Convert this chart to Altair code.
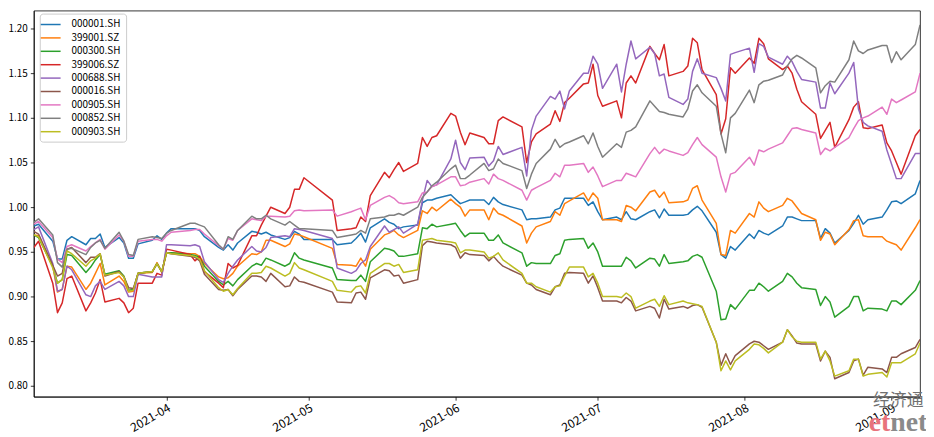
import altair as alt
import pandas as pd

holidays = ["2021-04-05", "2021-05-03", "2021-05-04", "2021-05-05", "2021-06-14"]
dates = [d.strftime("%Y-%m-%d") for d in pd.bdate_range("2021-03-04", "2021-09-07")
         if d.strftime("%Y-%m-%d") not in holidays]

names = ["000001.SH", "399001.SZ", "000300.SH", "399006.SZ", "000688.SH",
         "000016.SH", "000905.SH", "000852.SH", "000903.SH"]
colors = ["#1f77b4", "#ff7f0e", "#2ca02c", "#d62728", "#9467bd",
          "#8c564b", "#e377c2", "#7f7f7f", "#bcbd22"]

s000001 = [0.979, 0.981, 0.962, 0.942, 0.942, 0.963, 0.967, 0.958, 0.965, 0.965, 0.970, 0.955, 0.966, 0.960, 0.943, 0.943, 0.959, 0.963, 0.968, 0.964, 0.971, 0.976,
           0.976, 0.976, 0.974, 0.967, 0.955, 0.952, 0.958, 0.952, 0.960, 0.973, 0.972, 0.970, 0.972, 0.969, 0.964, 0.966, 0.973, 0.970, 0.964,
           0.964, 0.958, 0.960, 0.965, 0.971, 0.961, 0.977, 0.987, 0.983, 0.981, 0.976, 0.978, 0.980, 1.005, 1.008, 1.008, 1.010, 1.014, 1.009, 1.004, 1.006, 1.008, 1.008, 1.003, 1.011, 1.006, 1.003, 0.997, 0.986, 0.987, 0.987, 0.989, 0.997, 0.999, 1.010, 1.010, 1.010, 1.002, 1.006,
           0.995, 0.986, 0.989, 0.986, 0.995, 0.987, 0.986, 0.995, 0.997, 0.988, 0.998, 0.991, 0.991, 0.992, 0.997, 1.001, 0.996, 0.972, 0.947, 0.943, 0.956, 0.952, 0.970, 0.965, 0.974, 0.971, 0.969,
           0.979, 0.989, 0.989, 0.987, 0.985, 0.985, 0.965, 0.976, 0.971, 0.960, 0.974, 0.982, 0.991, 0.981, 0.986, 0.989, 0.997, 1.006, 1.007, 1.004, 1.015, 1.030]

s399001 = [0.969, 0.968, 0.934, 0.905, 0.908, 0.934, 0.933, 0.908, 0.915, 0.926, 0.937, 0.913, 0.923, 0.917, 0.905, 0.906, 0.926, 0.927, 0.938, 0.927, 0.949, 0.949,
           0.948, 0.948, 0.945, 0.937, 0.922, 0.920, 0.921, 0.926, 0.934, 0.948, 0.947, 0.950, 0.963, 0.963, 0.956, 0.959, 0.970, 0.969, 0.967,
           0.954, 0.936, 0.935, 0.934, 0.943, 0.934, 0.953, 0.969, 0.971, 0.974, 0.969, 0.966, 0.974, 0.996, 0.993, 1.000, 0.996, 1.009, 1.004, 1.000, 0.990, 0.997, 0.997, 0.986, 0.999, 0.993, 0.991, 0.979, 0.960, 0.971, 0.978, 0.984, 0.995, 0.991, 1.004, 1.007, 1.016, 1.007, 1.016,
           1.010, 0.986, 0.986, 0.984, 1.002, 1.000, 0.996, 1.017, 1.019, 1.011, 1.017, 1.005, 1.006, 1.008, 1.021, 1.024, 1.008, 0.982, 0.947, 0.946, 0.974, 0.971, 0.993, 0.989, 1.006, 0.999, 0.995,
           1.002, 1.010, 1.007, 1.000, 0.993, 0.986, 0.963, 0.972, 0.970, 0.958, 0.975, 0.985, 0.986, 0.968, 0.967, 0.967, 0.962, 0.960, 0.958, 0.952, 0.977, 0.986]

s000300 = [0.969, 0.966, 0.934, 0.915, 0.919, 0.947, 0.946, 0.927, 0.933, 0.941, 0.947, 0.925, 0.929, 0.923, 0.907, 0.908, 0.926, 0.928, 0.937, 0.928, 0.949, 0.949,
           0.947, 0.946, 0.944, 0.934, 0.917, 0.913, 0.917, 0.912, 0.919, 0.934, 0.937, 0.935, 0.943, 0.941, 0.934, 0.937, 0.949, 0.943, 0.941,
           0.932, 0.919, 0.918, 0.918, 0.924, 0.917, 0.939, 0.954, 0.953, 0.951, 0.945, 0.945, 0.948, 0.977, 0.976, 0.981, 0.978, 0.981, 0.982, 0.974, 0.967, 0.971, 0.971, 0.963, 0.963, 0.969, 0.960, 0.949, 0.934, 0.938, 0.937, 0.937, 0.946, 0.948, 0.963, 0.964, 0.965, 0.954, 0.960,
           0.950, 0.934, 0.934, 0.934, 0.944, 0.940, 0.932, 0.943, 0.942, 0.934, 0.947, 0.937, 0.939, 0.940, 0.945, 0.947, 0.944, 0.906, 0.874, 0.875, 0.891, 0.886, 0.907, 0.907, 0.915, 0.911, 0.906,
           0.917, 0.926, 0.922, 0.915, 0.910, 0.908, 0.890, 0.900, 0.894, 0.877, 0.889, 0.900, 0.900, 0.884, 0.887, 0.886, 0.884, 0.895, 0.895, 0.891, 0.907, 0.918]

s399006 = [0.955, 0.962, 0.915, 0.882, 0.893, 0.920, 0.923, 0.884, 0.893, 0.904, 0.919, 0.894, 0.898, 0.893, 0.882, 0.887, 0.915, 0.915, 0.926, 0.924, 0.953, 0.952,
           0.947, 0.940, 0.945, 0.928, 0.915, 0.910, 0.937, 0.932, 0.935, 0.968, 0.968, 0.980, 0.990, 1.000, 0.993, 1.000, 1.020, 1.020, 1.033,
           1.008, 0.974, 0.976, 0.977, 0.989, 0.984, 1.013, 1.039, 1.033, 1.042, 1.050, 1.040, 1.049, 1.078, 1.068, 1.078, 1.080, 1.105, 1.102, 1.084, 1.070, 1.083, 1.078, 1.071, 1.071, 1.097, 1.101, 1.090, 1.050, 1.073, 1.082, 1.093, 1.108, 1.096, 1.117, 1.122, 1.138, 1.139, 1.160,
           1.125, 1.113, 1.119, 1.100, 1.139, 1.147, 1.139, 1.180, 1.172, 1.165, 1.182, 1.147, 1.152, 1.158, 1.189, 1.184, 1.154, 1.126, 1.082, 1.099, 1.156, 1.150, 1.167, 1.161, 1.189, 1.183, 1.166,
           1.154, 1.158, 1.150, 1.132, 1.118, 1.104, 1.077, 1.086, 1.095, 1.067, 1.098, 1.112, 1.118, 1.089, 1.088, 1.092, 1.072, 1.063, 1.050, 1.037, 1.080, 1.087]

s000688 = [0.975, 0.978, 0.937, 0.906, 0.908, 0.934, 0.930, 0.902, 0.900, 0.912, 0.917, 0.908, 0.917, 0.912, 0.900, 0.900, 0.925, 0.922, 0.922, 0.922, 0.958, 0.958,
           0.957, 0.958, 0.956, 0.939, 0.919, 0.916, 0.926, 0.934, 0.941, 0.956, 0.951, 0.950, 0.955, 0.966, 0.968, 0.967, 0.976, 0.975, 0.974,
           0.965, 0.932, 0.926, 0.929, 0.937, 0.941, 0.956, 0.979, 0.972, 0.975, 0.978, 0.971, 0.981, 1.008, 1.030, 1.023, 1.025, 1.054, 1.075, 1.050, 1.042, 1.055, 1.056, 1.046, 1.052, 1.068, 1.059, 1.067, 1.035, 1.086, 1.102, 1.124, 1.121, 1.130, 1.110, 1.130, 1.150, 1.150, 1.169,
           1.160, 1.133, 1.160, 1.129, 1.160, 1.186, 1.166, 1.179, 1.172, 1.147, 1.149, 1.123, 1.115, 1.121, 1.152, 1.166, 1.150, 1.145, 1.133, 1.119, 1.171, 1.173, 1.178, 1.151, 1.183, 1.180, 1.168,
           1.160, 1.169, 1.163, 1.152, 1.143, 1.140, 1.111, 1.111, 1.139, 1.127, 1.150, 1.162, 1.110, 1.095, 1.091, 1.085, 1.064, 1.048, 1.032, 1.032, 1.060, 1.060]

s000016 = [0.973, 0.970, 0.935, 0.923, 0.926, 0.953, 0.955, 0.938, 0.944, 0.944, 0.948, 0.923, 0.928, 0.922, 0.910, 0.909, 0.926, 0.928, 0.937, 0.928, 0.949, 0.948,
           0.945, 0.944, 0.940, 0.925, 0.908, 0.907, 0.908, 0.901, 0.908, 0.923, 0.923, 0.922, 0.917, 0.926, 0.911, 0.912, 0.922, 0.917, 0.916,
           0.905, 0.894, 0.893, 0.904, 0.905, 0.897, 0.921, 0.930, 0.929, 0.923, 0.924, 0.915, 0.919, 0.957, 0.962, 0.961, 0.960, 0.958, 0.955, 0.943, 0.949, 0.947, 0.946, 0.940, 0.945, 0.939, 0.934, 0.924, 0.915, 0.913, 0.908, 0.902, 0.911, 0.913, 0.926, 0.927, 0.926, 0.915, 0.923,
           0.910, 0.895, 0.895, 0.893, 0.899, 0.895, 0.884, 0.889, 0.887, 0.876, 0.897, 0.886, 0.889, 0.887, 0.890, 0.891, 0.888, 0.849, 0.823, 0.836, 0.824, 0.834, 0.847, 0.850, 0.849, 0.845, 0.841,
           0.849, 0.863, 0.856, 0.848, 0.847, 0.847, 0.828, 0.839, 0.832, 0.808, 0.815, 0.828, 0.830, 0.812, 0.821, 0.819, 0.815, 0.832, 0.832, 0.836, 0.843, 0.852]

s000905 = [0.981, 0.984, 0.966, 0.942, 0.938, 0.956, 0.958, 0.951, 0.956, 0.960, 0.964, 0.953, 0.969, 0.962, 0.945, 0.945, 0.962, 0.964, 0.964, 0.962, 0.968, 0.972,
           0.974, 0.975, 0.975, 0.970, 0.957, 0.953, 0.965, 0.963, 0.974, 0.987, 0.986, 0.985, 0.990, 0.990, 0.989, 0.990, 0.996, 0.997, 0.996,
           0.997, 0.990, 0.995, 0.997, 0.999, 0.986, 1.002, 1.011, 1.013, 1.010, 1.005, 1.004, 1.006, 1.016, 1.017, 1.023, 1.025, 1.034, 1.034, 1.024, 1.025, 1.028, 1.032, 1.026, 1.037, 1.032, 1.030, 1.019, 1.008, 1.019, 1.022, 1.030, 1.038, 1.034, 1.047, 1.047, 1.049, 1.039, 1.045,
           1.035, 1.023, 1.030, 1.030, 1.038, 1.036, 1.034, 1.060, 1.067, 1.060, 1.065, 1.063, 1.058, 1.061, 1.070, 1.078, 1.070, 1.056, 1.034, 1.017, 1.037, 1.039, 1.056, 1.047, 1.064, 1.062, 1.065,
           1.072, 1.080, 1.088, 1.089, 1.087, 1.083, 1.059, 1.066, 1.063, 1.067, 1.078, 1.088, 1.097, 1.100, 1.102, 1.112, 1.104, 1.121, 1.117, 1.120, 1.129, 1.150]

s000852 = [0.983, 0.987, 0.969, 0.938, 0.933, 0.953, 0.954, 0.947, 0.955, 0.960, 0.963, 0.954, 0.972, 0.962, 0.947, 0.946, 0.964, 0.967, 0.966, 0.965, 0.971, 0.974,
           0.982, 0.982, 0.980, 0.978, 0.958, 0.953, 0.967, 0.964, 0.974, 0.990, 0.987, 0.987, 0.991, 0.987, 0.980, 0.984, 0.980, 0.976, 0.976,
           0.974, 0.966, 0.969, 0.970, 0.974, 0.971, 0.987, 0.989, 0.991, 0.991, 0.993, 0.991, 1.000, 1.011, 1.017, 1.024, 1.028, 1.043, 1.047, 1.032, 1.032, 1.036, 1.049, 1.041, 1.043, 1.054, 1.049, 1.041, 1.021, 1.037, 1.049, 1.065, 1.076, 1.067, 1.071, 1.073, 1.080, 1.071, 1.083,
           1.068, 1.056, 1.071, 1.067, 1.084, 1.086, 1.090, 1.119, 1.113, 1.107, 1.106, 1.104, 1.101, 1.110, 1.130, 1.137, 1.128, 1.113, 1.082, 1.061, 1.100, 1.105, 1.131, 1.117, 1.137, 1.141, 1.142,
           1.148, 1.158, 1.166, 1.170, 1.167, 1.156, 1.128, 1.136, 1.141, 1.140, 1.165, 1.186, 1.175, 1.172, 1.176, 1.181, 1.181, 1.162, 1.174, 1.165, 1.182, 1.204]

s000903 = [0.969, 0.967, 0.932, 0.915, 0.919, 0.951, 0.948, 0.934, 0.940, 0.943, 0.948, 0.924, 0.927, 0.922, 0.906, 0.907, 0.926, 0.928, 0.937, 0.928, 0.949, 0.948,
           0.946, 0.945, 0.942, 0.929, 0.910, 0.906, 0.908, 0.902, 0.909, 0.926, 0.926, 0.927, 0.934, 0.932, 0.923, 0.926, 0.938, 0.932, 0.930,
           0.917, 0.907, 0.905, 0.911, 0.912, 0.904, 0.926, 0.937, 0.937, 0.934, 0.936, 0.927, 0.930, 0.963, 0.964, 0.965, 0.963, 0.961, 0.960, 0.949, 0.952, 0.952, 0.950, 0.943, 0.945, 0.949, 0.941, 0.926, 0.915, 0.915, 0.911, 0.905, 0.911, 0.912, 0.923, 0.933, 0.933, 0.922, 0.926,
           0.915, 0.900, 0.900, 0.899, 0.904, 0.900, 0.887, 0.895, 0.897, 0.889, 0.901, 0.891, 0.895, 0.893, 0.892, 0.891, 0.889, 0.849, 0.817, 0.828, 0.818, 0.828, 0.841, 0.847, 0.846, 0.842, 0.837,
           0.849, 0.863, 0.855, 0.850, 0.849, 0.849, 0.830, 0.839, 0.828, 0.811, 0.817, 0.830, 0.830, 0.811, 0.813, 0.815, 0.810, 0.826, 0.826, 0.826, 0.836, 0.848]

series = [s000001, s399001, s000300, s399006, s000688, s000016, s000905, s000852, s000903]

rows = []
for name, vals in zip(names, series):
    if len(vals) != len(dates):
        raise ValueError(f"{name}: {len(vals)} values vs {len(dates)} dates")
    for dt, v in zip(dates, vals):
        rows.append({"date": dt, "index": name, "value": v})
df = pd.DataFrame(rows)

y_ticks = [0.80, 0.85, 0.90, 0.95, 1.00, 1.05, 1.10, 1.15, 1.20]
x_ticks = [alt.DateTime(year=2021, month=m, date=1, utc=True) for m in range(4, 10)]
FONT = "Noto Sans CJK SC"

lines = alt.Chart(df).mark_line(strokeWidth=1.5, strokeJoin="round", clip=True).encode(
    x=alt.X("date:T",
            scale=alt.Scale(type="utc", nice=False,
                            domain=[alt.DateTime(year=2021, month=3, date=4, utc=True),
                                    alt.DateTime(year=2021, month=9, date=7, utc=True)]),
            axis=alt.Axis(title=None, values=x_ticks, format="%Y-%m", labelAngle=330,
                          labelAlign="right", labelBaseline="top", labelPadding=2,
                          labelFontSize=12)),
    y=alt.Y("value:Q",
            scale=alt.Scale(domain=[0.788, 1.220], nice=False, zero=False),
            axis=alt.Axis(title=None, values=y_ticks, format=".2f", labelPadding=3)),
    color=alt.Color("index:N", sort=names,
                    scale=alt.Scale(domain=names, range=colors),
                    legend=alt.Legend(title=None, orient="none", legendX=6, legendY=3,
                                      symbolType="M-2,0H2", symbolSize=100,
                                      symbolStrokeWidth=1.5, labelOffset=15,
                                      rowPadding=2.5, padding=5)),
)

wm_df = pd.DataFrame({"k": [0]})
wm1 = alt.Chart(wm_df).mark_text(text="经济通", font=FONT, fontSize=17, color="#707070",
                                 align="center", baseline="middle").encode(
    x=alt.value(871), y=alt.value(393))
wm2 = alt.Chart(wm_df).mark_text(text="et", font="Liberation Sans Narrow", fontSize=28,
                                 fontWeight="bold", color="#e8737c", align="right",
                                 baseline="alphabetic").encode(
    x=alt.value(863), y=alt.value(424))
wm3 = alt.Chart(wm_df).mark_text(text="net", font="Liberation Sans Narrow", fontSize=28,
                                 fontWeight="bold", color="#8a8a8a", align="left",
                                 baseline="alphabetic").encode(
    x=alt.value(863), y=alt.value(424))

chart = alt.layer(lines, wm1, wm2, wm3).properties(
    width=893, height=389,
    autosize=alt.AutoSizeParams(type="none"),
    padding={"left": 26, "top": 1, "right": 6, "bottom": 39},
    background="white",
).configure_axis(
    domainColor="black", domainWidth=0.8, tickColor="black", tickWidth=0.8, tickSize=3.5,
    labelColor="black", labelFont=FONT, labelFontSize=10, grid=False,
).configure_view(
    stroke="black", strokeWidth=0.8,
).configure_legend(
    labelFont=FONT, labelFontSize=10, labelColor="black",
    fillColor="rgba(255,255,255,0.8)", strokeColor="#cccccc", cornerRadius=3,
)

chart.save("out.html", embed_options={"renderer": "svg", "actions": False})
